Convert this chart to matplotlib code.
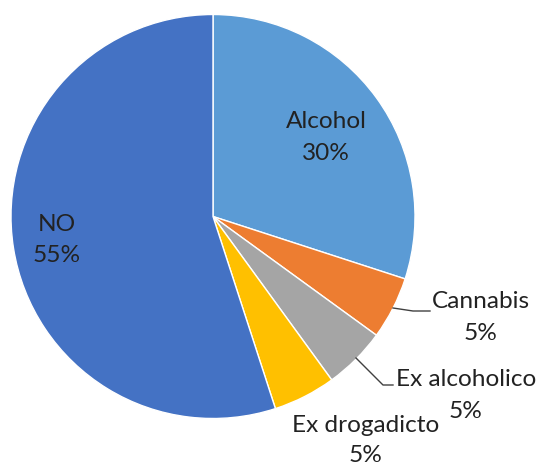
import matplotlib
matplotlib.use("Agg")
import matplotlib.pyplot as plt

# data
categories = ["Alcohol", "Cannabis", "Ex alcoholico", "Ex drogadicto", "NO"]
values = [30, 5, 5, 5, 55]
colors = ["#5B9BD5", "#ED7D31", "#A5A5A5", "#FFC000", "#4472C4"]

W, H = 538, 465
plt.rcParams['font.family'] = ['Lato', 'DejaVu Sans']

fig = plt.figure(figsize=(W / 100, H / 100), dpi=100)
ax = fig.add_axes([0, 0, 1, 1])

cx, cy, r = 213, H - 216.5, 202
ax.pie(values, colors=colors, startangle=90, counterclock=False,
       center=(cx, cy), radius=r, frame=True,
       wedgeprops=dict(edgecolor='white', linewidth=1))
ax.set_xlim(0, W)
ax.set_ylim(0, H)
ax.set_aspect('equal')
ax.axis('off')

# label positions in pixels (x, y from top) - first line, percent below
label_pos = {
    "Alcohol": (326, 122),
    "Cannabis": (481, 302),
    "Ex alcoholico": (466, 380),
    "Ex drogadicto": (366, 425),
    "NO": (57, 225),
}
line_gap = 31
total = sum(values)
for name, v in zip(categories, values):
    x, y = label_pos[name]
    pct = f"{round(v / total * 100)}%"
    ax.text(x, H - y, name, ha='center', va='center', fontsize=17.6, color='#222222')
    ax.text(x, H - y - line_gap, pct, ha='center', va='center', fontsize=17.6, color='#222222')

# leader lines
leaders = [
    [(393, 308), (413, 311), (430, 311)],
    [(356, 358), (383, 385), (393, 385)],
]
for pts in leaders:
    xs = [p[0] for p in pts]
    ys = [H - p[1] for p in pts]
    ax.plot(xs, ys, color='#404040', linewidth=1)

fig.savefig("out.png", dpi=100)
